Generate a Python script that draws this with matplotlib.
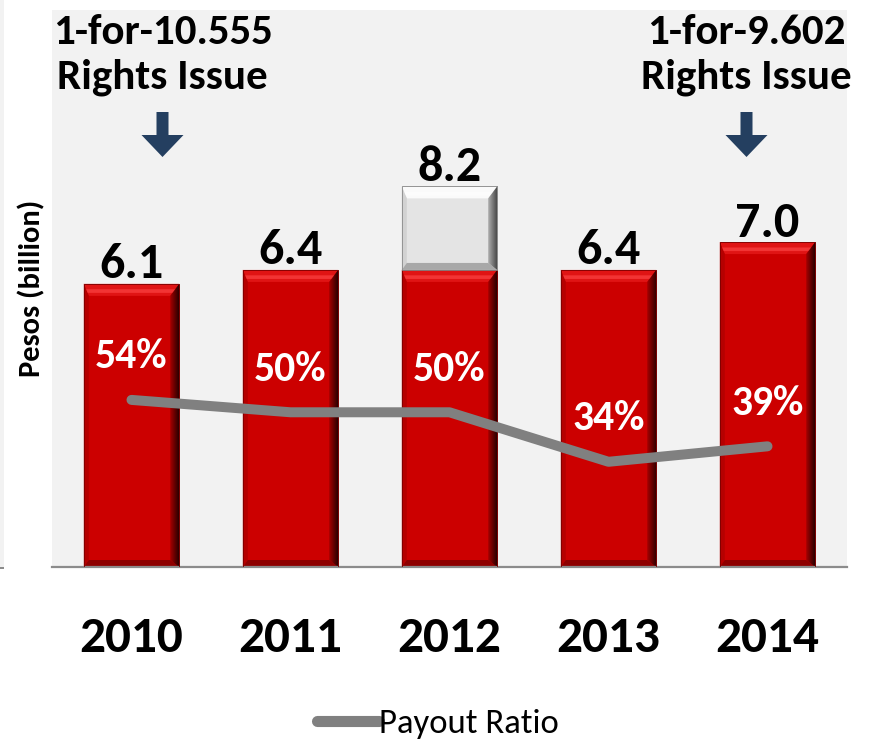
import numpy as np
import matplotlib
matplotlib.use("Agg")
import matplotlib.pyplot as plt
from matplotlib.patches import Polygon, Rectangle
from matplotlib.colors import LinearSegmentedColormap

# ---------------- data ----------------
years = ["2010", "2011", "2012", "2013", "2014"]
regular_div = [6.1, 6.4, 6.4, 6.4, 7.0]      # Pesos (billion)
special_div = [0.0, 0.0, 1.8, 0.0, 0.0]      # extra (grey) block
total_labels = ["6.1", "6.4", "8.2", "6.4", "7.0"]
payout_ratio = [54, 50, 50, 34, 39]          # %
payout_labels = ["54%", "50%", "50%", "34%", "39%"]
rights_notes = ["1-for-10.555\nRights Issue", "1-for-9.602\nRights Issue"]
rights_years = ["2010", "2014"]

FONT = ["Carlito", "Lato", "DejaVu Sans"]
plt.rcParams["font.family"] = FONT

W, H = 872, 743
fig = plt.figure(figsize=(W / 100, H / 100), dpi=100)
fig.patch.set_facecolor("white")

# left edge strip (neighbouring panel)
fig.patches.append(Rectangle((0, 1 - 567 / H), 4 / W, 567 / H, transform=fig.transFigure,
                             facecolor="#F2F2F2", edgecolor="none", zorder=0))
fig.patches.append(Rectangle((0, 1 - 569 / H), 4 / W, 2 / H, transform=fig.transFigure,
                             facecolor="#8C8C8C", edgecolor="none", zorder=0))

ax_l, ax_r, ax_t, ax_b = 52, 847, 10, 567
ax = fig.add_axes([ax_l / W, 1 - ax_b / H, (ax_r - ax_l) / W, (ax_b - ax_t) / H])
ax.set_facecolor("#F2F2F2")
ax.set_xlim(-0.5, 4.5)
ax.set_ylim(0, 12)

ppx = (ax_r - ax_l) / 5.0
ppy = (ax_b - ax_t) / 12.0

x = np.arange(len(years))
bars = ax.bar(x, regular_div, width=0.6, color="#CC0000", edgecolor="#7A0000",
              linewidth=0.6, zorder=2)
tops = ax.bar(x, special_div, bottom=regular_div, width=0.6, color="#E4E4E4",
              edgecolor="#8A8A8A", linewidth=0.6, zorder=2)


def bevel(p, top_c, left_c, bottom_c, right_light, right_dark, hi_c, z=2.5):
    x0, y0 = p.get_x(), p.get_y()
    w, h = p.get_width(), p.get_height()
    if h <= 0:
        return
    x1, y1 = x0 + w, y0 + h
    br = 9 / ppx
    bl = 5 / ppx
    bt = 12 / ppy
    bb = 7 / ppy
    ax.add_patch(Polygon([(x0, y1), (x1, y1), (x1 - br, y1 - bt), (x0 + bl, y1 - bt)],
                         closed=True, fc=top_c, ec="none", zorder=z))
    ax.add_patch(Polygon([(x0 + 0.4 * bl, y1 - 0.45 * bt), (x1 - 0.4 * br, y1 - 0.45 * bt),
                          (x1 - 0.55 * br, y1 - 0.75 * bt), (x0 + 0.55 * bl, y1 - 0.75 * bt)],
                         closed=True, fc=hi_c, ec="none", zorder=z, alpha=0.6))
    ax.add_patch(Polygon([(x0, y0), (x0, y1), (x0 + bl, y1 - bt), (x0 + bl, y0 + bb)],
                         closed=True, fc=left_c, ec="none", zorder=z))
    ax.add_patch(Polygon([(x0, y0), (x1, y0), (x1 - br, y0 + bb), (x0 + bl, y0 + bb)],
                         closed=True, fc=bottom_c, ec="none", zorder=z))
    poly = Polygon([(x1, y0), (x1, y1), (x1 - br, y1 - bt), (x1 - br, y0 + bb)],
                   closed=True, fc="none", ec="none", zorder=z)
    ax.add_patch(poly)
    cmap = LinearSegmentedColormap.from_list("g", [right_light, right_dark])
    im = ax.imshow(np.linspace(0, 1, 64).reshape(1, -1), extent=(x1 - br, x1, y0, y1),
                   aspect="auto", cmap=cmap, interpolation="bilinear", zorder=z)
    im.set_clip_path(poly)
    ax.add_patch(Rectangle((x0, y0), w, h, fc="none", ec=p.get_edgecolor(), lw=0.6, zorder=z + 0.1))


for p in bars:
    bevel(p, "#E01414", "#B50000", "#8E0000", "#A80000", "#2A0000", "#FF4A4A")
for p in tops:
    bevel(p, "#FAFAFA", "#D2D2D2", "#A8A8A8", "#B0B0B0", "#4A4A4A", "#FFFFFF")

ax.set_xlim(-0.5, 4.5)
ax.set_ylim(0, 12)

# total value labels
for xi, r, s, lab in zip(x, regular_div, special_div, total_labels):
    ax.annotate(lab, (xi, r + s), xytext=(0, 4), textcoords="offset points",
                ha="center", va="baseline", fontsize=36, fontweight="bold",
                color="black", zorder=5)

# axes styling
for s in ["top", "left", "right"]:
    ax.spines[s].set_visible(False)
ax.spines["bottom"].set_color("#8C8C8C")
ax.spines["bottom"].set_linewidth(1.6)
ax.set_yticks([])
ax.set_xticks(x, years)
ax.tick_params(axis="x", length=0, pad=35, labelsize=37)
for t in ax.get_xticklabels():
    t.set_fontweight("bold")

# payout ratio line on secondary axis
ax2 = ax.twinx()
ax2.set_ylim(0, 180)
ax2.patch.set_visible(False)
for s in ax2.spines.values():
    s.set_visible(False)
ax2.set_yticks([])
line, = ax2.plot(x, payout_ratio, color="#808080", lw=7.2, solid_capstyle="round",
                 solid_joinstyle="round", zorder=3, label="Payout Ratio")
for xi, v, lab in zip(x, payout_ratio, payout_labels):
    ax2.annotate(lab, (xi, v), xytext=(0, 31), textcoords="offset points",
                 ha="center", va="center", fontsize=30, fontweight="bold",
                 color="white", zorder=6)

# y label
fig.text(32 / W, 1 - 288 / H, "Pesos (billion)", rotation=90, ha="center", va="center",
         fontsize=22, fontweight="bold")

# legend
leg = fig.legend(handles=[line], loc="center", bbox_to_anchor=(438 / W, 1 - 724 / H),
                 frameon=False, fontsize=25, handlelength=1.8, handletextpad=0.0,
                 borderaxespad=0)
leg.get_lines()[0].set_linewidth(8)

# rights-issue notes with arrows
note_dx = [31, -21]   # pixel offset of note centre from bar centre
for note, yr, dx in zip(rights_notes, rights_years, note_dx):
    xi = years.index(yr)
    xd = ax_l + (xi + 0.5) * ppx + dx
    fig.text(xd / W, 1 - 55 / H, note, ha="center", va="center", fontsize=31,
             fontweight="bold", linespacing=1.22)
    pts = [(xd - 6, 112), (xd + 6, 112), (xd + 6, 135), (xd + 21, 135),
           (xd, 157), (xd - 21, 135), (xd - 6, 135)]
    fig.patches.append(Polygon([(px / W, 1 - py / H) for px, py in pts], closed=True,
                               transform=fig.transFigure, fc="#243F60", ec="none", zorder=5))

fig.savefig("out.png", dpi=100, facecolor="white")
